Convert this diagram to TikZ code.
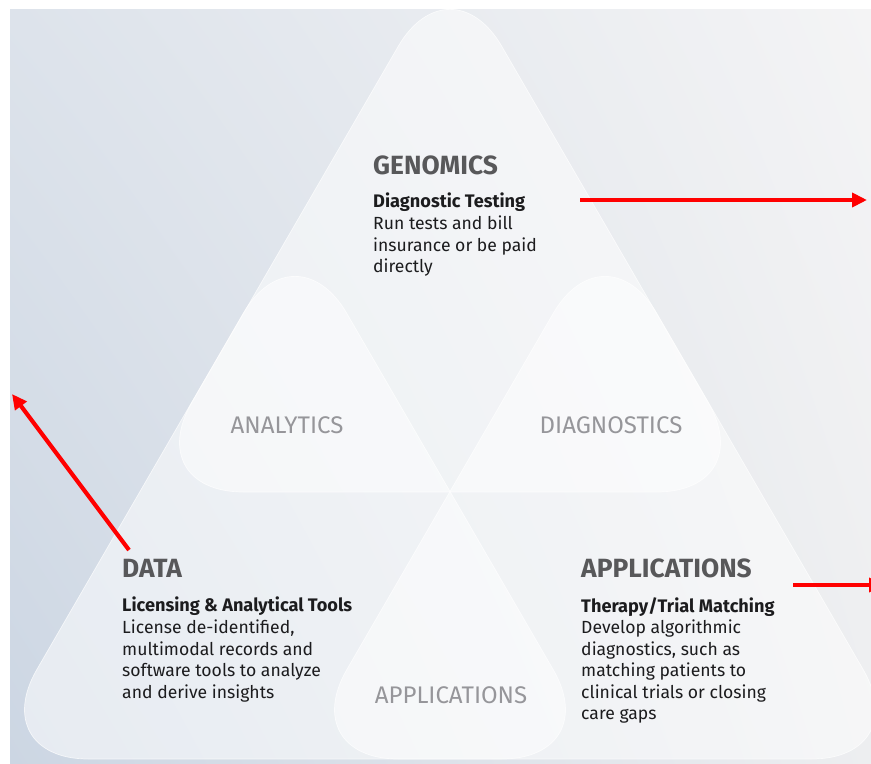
\documentclass[tikz,border=0pt]{standalone}
\usepackage{fontspec}
\setmainfont{Fira Sans}
\usetikzlibrary{arrows.meta,shadings}

\definecolor{titlegrey}{HTML}{58585A}
\definecolor{softgrey}{HTML}{96969A}
\definecolor{bodyblack}{HTML}{1C1C1E}
\definecolor{bgtl}{HTML}{DDE3EB}
\definecolor{bgtr}{HTML}{F4F4F5}
\definecolor{bgbl}{HTML}{CCD6E3}
\definecolor{bgbr}{HTML}{EDEEF0}
\definecolor{arrowred}{HTML}{FF0000}

\tikzset{
  lobe/.style={fill=white, fill opacity=0.52, draw=white, draw opacity=0.7,
    line width=0.6pt, rounded corners=3.1cm},
  headline/.style={anchor=base west, inner sep=0pt,
    font=\fontsize{22.5}{26}\selectfont\bfseries, text=titlegrey},
  blurb/.style={anchor=north west, inner sep=0pt, align=left,
    font=\fontsize{15}{18.4}\selectfont, text=bodyblack},
  overlap/.style={anchor=base, inner sep=0pt,
    font=\fontsize{20.5}{22}\selectfont, text=softgrey},
  redarrow/.style={draw=arrowred, line width=0.125cm,
    -{Triangle[length=0.45cm,width=0.42cm]}}
}

\begin{document}
\begin{tikzpicture}[x=0.03cm, y=-0.03cm]
\useasboundingbox (0,0) rectangle (871,764);
\clip (0,0) rectangle (871,764);
\fill[white] (0,0) rectangle (871,764);
\shade[upper left=bgtl, upper right=bgtr, lower left=bgbl, lower right=bgbr]
  (10,10) rectangle (871,764);

% three overlapping triangles
\path[lobe] (450,-43) -- (760,492) -- (140,492) -- cycle;
\path[lobe] (295,224) -- (605,759) -- (-15,759) -- cycle;
\path[lobe] (605,224) -- (915,759) -- (295,759) -- cycle;

% top
\node[headline] (genTitle) at (373,175) {GENOMICS};
\node[blurb] (genText) at (373,193)
  {{\fontsize{15.5}{18.4}\selectfont\textbf{Diagnostic Testing}}\\Run tests and bill\\insurance or be paid\\directly};

% bottom left
\node[headline] (dataTitle) at (122,577) {DATA};
\node[blurb] (dataText) at (122,597)
  {{\fontsize{15.5}{18.4}\selectfont\textbf{Licensing \& Analytical Tools}}\\License de-identified,\\multimodal records and\\software tools to analyze\\and derive insights};

% bottom right
\node[headline] (appsTitle) at (581,577) {APPLICATIONS};
\node[blurb] (appsText) at (581,597)
  {{\fontsize{15.5}{18.4}\selectfont\textbf{Therapy/Trial Matching}}\\Develop algorithmic\\diagnostics, such as\\matching patients to\\clinical trials or closing\\care gaps};

% overlaps
\node[overlap] (anaLabel) at (287,433) {ANALYTICS};
\node[overlap] (diagLabel) at (611,433) {DIAGNOSTICS};
\node[overlap] (overlapApps) at (451,703) {APPLICATIONS};

% red arrows
\coordinate (genFrom) at (580,200);
\coordinate (genTo) at (867,200);
\coordinate (dataFrom) at (129,550);
\coordinate (dataTo) at (12,394);
\coordinate (appsFrom) at (793,585);
\coordinate (appsTo) at (884,585);
\draw[redarrow] (genFrom) -- (genTo);
\draw[redarrow] (dataFrom) -- (dataTo);
\draw[redarrow] (appsFrom) -- (appsTo);
\end{tikzpicture}
\end{document}
